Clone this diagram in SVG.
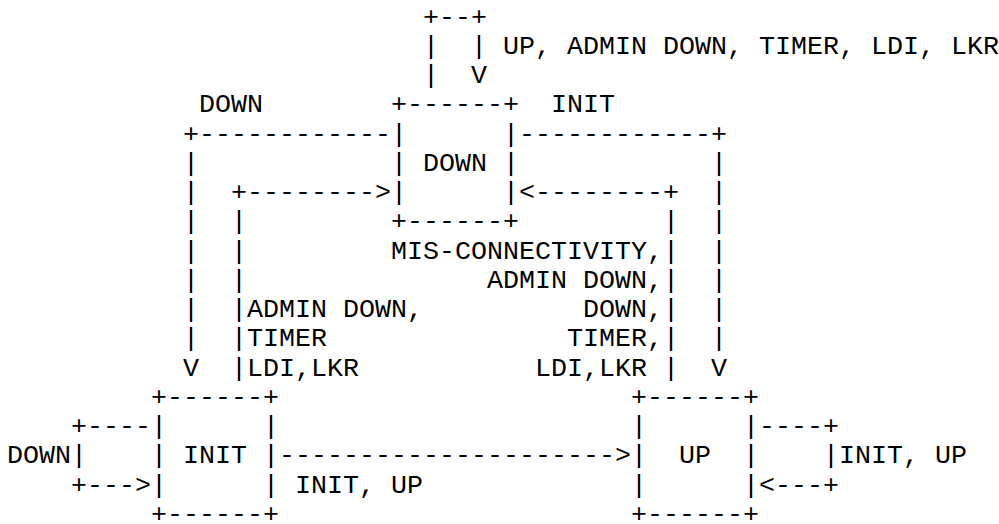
<svg xmlns="http://www.w3.org/2000/svg" width="999" height="524" viewBox="0 0 999 524">
<style>
.t{font-family:"Liberation Mono","Courier New",monospace;font-size:26.667px;fill:#000}
</style>
<rect width="999" height="524" fill="#fff"/>
<g id="node-down" class="t">
<text x="391" y="112.25">+------+</text>
<text x="391" y="141.5">|</text><text x="503" y="141.5">|</text>
<text x="391" y="170.75">|</text><text x="423" y="170.75">DOWN</text><text x="503" y="170.75">|</text>
<text x="391" y="200">|</text><text x="503" y="200">|</text>
<text x="391" y="229.25">+------+</text>
</g>
<g id="node-init" class="t">
<text x="151" y="404.75">+------+</text>
<text x="151" y="434">|</text><text x="263" y="434">|</text>
<text x="151" y="463.25">|</text><text x="183" y="463.25">INIT</text><text x="263" y="463.25">|</text>
<text x="151" y="492.5">|</text><text x="263" y="492.5">|</text>
<text x="151" y="521.75">+------+</text>
</g>
<g id="node-up" class="t">
<text x="631" y="404.75">+------+</text>
<text x="631" y="434">|</text><text x="743" y="434">|</text>
<text x="631" y="463.25">|</text><text x="679" y="463.25">UP</text><text x="743" y="463.25">|</text>
<text x="631" y="492.5">|</text><text x="743" y="492.5">|</text>
<text x="631" y="521.75">+------+</text>
</g>
<g id="connectors" class="t">
<text x="423" y="24.5">+--+</text>
<text x="423" y="53.75">|</text><text x="471" y="53.75">|</text>
<text x="423" y="83">|</text><text x="471" y="83">V</text>
<text x="183" y="141.5">+------------</text>
<text x="519" y="141.5">------------+</text>
<text x="183" y="170.75">|</text>
<text x="711" y="170.75">|</text>
<text x="183" y="200">|</text><text x="231" y="200">+--------&gt;</text>
<text x="519" y="200">&lt;--------+</text><text x="711" y="200">|</text>
<text x="183" y="229.25">|</text><text x="231" y="229.25">|</text>
<text x="663" y="229.25">|</text><text x="711" y="229.25">|</text>
<text x="183" y="258.5">|</text><text x="231" y="258.5">|</text>
<text x="663" y="258.5">|</text><text x="711" y="258.5">|</text>
<text x="183" y="287.75">|</text><text x="231" y="287.75">|</text>
<text x="663" y="287.75">|</text><text x="711" y="287.75">|</text>
<text x="183" y="317">|</text><text x="231" y="317">|</text>
<text x="663" y="317">|</text><text x="711" y="317">|</text>
<text x="183" y="346.25">|</text><text x="231" y="346.25">|</text>
<text x="663" y="346.25">|</text><text x="711" y="346.25">|</text>
<text x="183" y="375.5">V</text><text x="231" y="375.5">|</text>
<text x="663" y="375.5">|</text><text x="711" y="375.5">V</text>
<text x="71" y="434">+----</text>
<text x="759" y="434">----+</text>
<text x="71" y="463.25">|</text>
<text x="279" y="463.25">---------------------&gt;</text>
<text x="823" y="463.25">|</text>
<text x="71" y="492.5">+---&gt;</text>
<text x="759" y="492.5">&lt;---+</text>
</g>
<g id="labels" class="t">
<text x="503" y="53.75">UP, ADMIN DOWN, TIMER, LDI, LKR</text>
<text x="199" y="112.25">DOWN</text>
<text x="551" y="112.25">INIT</text>
<text x="391" y="258.5">MIS-CONNECTIVITY,</text>
<text x="487" y="287.75">ADMIN DOWN,</text>
<text x="247" y="317">ADMIN DOWN,</text>
<text x="583" y="317">DOWN,</text>
<text x="247" y="346.25">TIMER</text>
<text x="567" y="346.25">TIMER,</text>
<text x="247" y="375.5">LDI,LKR</text>
<text x="535" y="375.5">LDI,LKR</text>
<text x="7" y="463.25">DOWN</text>
<text x="839" y="463.25">INIT, UP</text>
<text x="295" y="492.5">INIT, UP</text>
</g>
</svg>
